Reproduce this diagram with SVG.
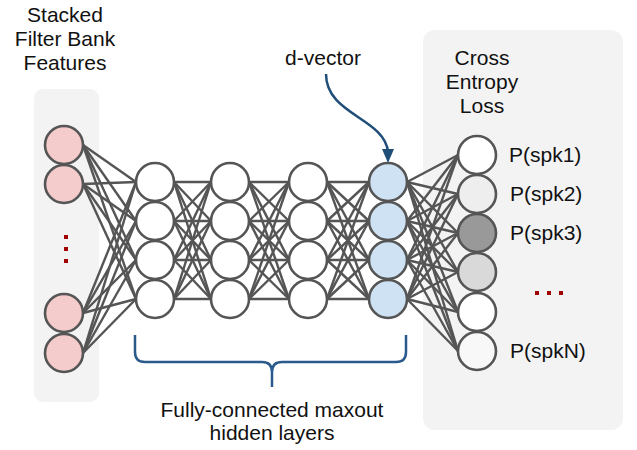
<svg xmlns="http://www.w3.org/2000/svg" width="637" height="450" viewBox="0 0 637 450">
<style>
.txt{font-family:"Liberation Sans",Arial,sans-serif;font-size:21px;fill:#111}
.n{stroke:#555555;stroke-width:2.6}
.e line{stroke:#555555;stroke-width:2.4}
.dot{fill:#a00000}
.panel{fill:#f3f3f3}
</style>
<rect class="panel" x="34" y="89" width="65" height="313" rx="9"/>
<rect class="panel" x="423" y="30" width="200" height="400" rx="12"/>
<g id="connectors" class="e">
<line x1="83" y1="145" x2="136" y2="182"/><line x1="83" y1="145" x2="136" y2="221"/><line x1="83" y1="145" x2="136" y2="260"/><line x1="83" y1="145" x2="136" y2="299"/>
<line x1="83" y1="184" x2="136" y2="182"/><line x1="83" y1="184" x2="136" y2="221"/><line x1="83" y1="184" x2="136" y2="260"/><line x1="83" y1="184" x2="136" y2="299"/>
<line x1="83" y1="313" x2="136" y2="182"/><line x1="83" y1="313" x2="136" y2="221"/><line x1="83" y1="313" x2="136" y2="260"/><line x1="83" y1="313" x2="136" y2="299"/>
<line x1="83" y1="353" x2="136" y2="182"/><line x1="83" y1="353" x2="136" y2="221"/><line x1="83" y1="353" x2="136" y2="260"/><line x1="83" y1="353" x2="136" y2="299"/>
<line x1="174" y1="182" x2="211" y2="182"/><line x1="174" y1="182" x2="211" y2="221"/><line x1="174" y1="182" x2="211" y2="260"/><line x1="174" y1="182" x2="211" y2="299"/>
<line x1="174" y1="221" x2="211" y2="182"/><line x1="174" y1="221" x2="211" y2="221"/><line x1="174" y1="221" x2="211" y2="260"/><line x1="174" y1="221" x2="211" y2="299"/>
<line x1="174" y1="260" x2="211" y2="182"/><line x1="174" y1="260" x2="211" y2="221"/><line x1="174" y1="260" x2="211" y2="260"/><line x1="174" y1="260" x2="211" y2="299"/>
<line x1="174" y1="299" x2="211" y2="182"/><line x1="174" y1="299" x2="211" y2="221"/><line x1="174" y1="299" x2="211" y2="260"/><line x1="174" y1="299" x2="211" y2="299"/>
<line x1="249" y1="182" x2="289" y2="182"/><line x1="249" y1="182" x2="289" y2="221"/><line x1="249" y1="182" x2="289" y2="260"/><line x1="249" y1="182" x2="289" y2="299"/>
<line x1="249" y1="221" x2="289" y2="182"/><line x1="249" y1="221" x2="289" y2="221"/><line x1="249" y1="221" x2="289" y2="260"/><line x1="249" y1="221" x2="289" y2="299"/>
<line x1="249" y1="260" x2="289" y2="182"/><line x1="249" y1="260" x2="289" y2="221"/><line x1="249" y1="260" x2="289" y2="260"/><line x1="249" y1="260" x2="289" y2="299"/>
<line x1="249" y1="299" x2="289" y2="182"/><line x1="249" y1="299" x2="289" y2="221"/><line x1="249" y1="299" x2="289" y2="260"/><line x1="249" y1="299" x2="289" y2="299"/>
<line x1="327" y1="182" x2="369" y2="182"/><line x1="327" y1="182" x2="369" y2="221"/><line x1="327" y1="182" x2="369" y2="260"/><line x1="327" y1="182" x2="369" y2="299"/>
<line x1="327" y1="221" x2="369" y2="182"/><line x1="327" y1="221" x2="369" y2="221"/><line x1="327" y1="221" x2="369" y2="260"/><line x1="327" y1="221" x2="369" y2="299"/>
<line x1="327" y1="260" x2="369" y2="182"/><line x1="327" y1="260" x2="369" y2="221"/><line x1="327" y1="260" x2="369" y2="260"/><line x1="327" y1="260" x2="369" y2="299"/>
<line x1="327" y1="299" x2="369" y2="182"/><line x1="327" y1="299" x2="369" y2="221"/><line x1="327" y1="299" x2="369" y2="260"/><line x1="327" y1="299" x2="369" y2="299"/>
<line x1="407" y1="182" x2="458" y2="155"/><line x1="407" y1="182" x2="458" y2="194"/><line x1="407" y1="182" x2="458" y2="233"/><line x1="407" y1="182" x2="458" y2="272"/><line x1="407" y1="182" x2="458" y2="312"/><line x1="407" y1="182" x2="458" y2="351"/>
<line x1="407" y1="221" x2="458" y2="155"/><line x1="407" y1="221" x2="458" y2="194"/><line x1="407" y1="221" x2="458" y2="233"/><line x1="407" y1="221" x2="458" y2="272"/><line x1="407" y1="221" x2="458" y2="312"/><line x1="407" y1="221" x2="458" y2="351"/>
<line x1="407" y1="260" x2="458" y2="155"/><line x1="407" y1="260" x2="458" y2="194"/><line x1="407" y1="260" x2="458" y2="233"/><line x1="407" y1="260" x2="458" y2="272"/><line x1="407" y1="260" x2="458" y2="312"/><line x1="407" y1="260" x2="458" y2="351"/>
<line x1="407" y1="299" x2="458" y2="155"/><line x1="407" y1="299" x2="458" y2="194"/><line x1="407" y1="299" x2="458" y2="233"/><line x1="407" y1="299" x2="458" y2="272"/><line x1="407" y1="299" x2="458" y2="312"/><line x1="407" y1="299" x2="458" y2="351"/>
</g>
<g id="input-layer">
<circle class="n" cx="64" cy="145" r="19" fill="#f4cccc"/>
<circle class="n" cx="64" cy="184" r="19" fill="#f4cccc"/>
<circle class="n" cx="64" cy="313" r="19" fill="#f4cccc"/>
<circle class="n" cx="64" cy="353" r="19" fill="#f4cccc"/>
<rect class="dot" x="64" y="235" width="4" height="4"/>
<rect class="dot" x="64" y="247" width="4" height="4"/>
<rect class="dot" x="64" y="259" width="4" height="4"/>
</g>
<g id="hidden-1">
<circle class="n" cx="155" cy="182" r="19" fill="#fff"/><circle class="n" cx="155" cy="221" r="19" fill="#fff"/><circle class="n" cx="155" cy="260" r="19" fill="#fff"/><circle class="n" cx="155" cy="299" r="19" fill="#fff"/>
</g>
<g id="hidden-2">
<circle class="n" cx="230" cy="182" r="19" fill="#fff"/><circle class="n" cx="230" cy="221" r="19" fill="#fff"/><circle class="n" cx="230" cy="260" r="19" fill="#fff"/><circle class="n" cx="230" cy="299" r="19" fill="#fff"/>
</g>
<g id="hidden-3">
<circle class="n" cx="308" cy="182" r="19" fill="#fff"/><circle class="n" cx="308" cy="221" r="19" fill="#fff"/><circle class="n" cx="308" cy="260" r="19" fill="#fff"/><circle class="n" cx="308" cy="299" r="19" fill="#fff"/>
</g>
<g id="dvector-layer">
<circle class="n" cx="388" cy="182" r="19" fill="#cfe2f3"/><circle class="n" cx="388" cy="221" r="19" fill="#cfe2f3"/><circle class="n" cx="388" cy="260" r="19" fill="#cfe2f3"/><circle class="n" cx="388" cy="299" r="19" fill="#cfe2f3"/>
</g>
<g id="output-layer">
<circle class="n" cx="477" cy="155" r="19" fill="#ffffff"/>
<circle class="n" cx="477" cy="194" r="19" fill="#eeeeee"/>
<circle class="n" cx="477" cy="233" r="19" fill="#999999"/>
<circle class="n" cx="477" cy="272" r="19" fill="#d9d9d9"/>
<circle class="n" cx="477" cy="312" r="19" fill="#ffffff"/>
<circle class="n" cx="477" cy="351" r="19" fill="#f8f8f8"/>
<text class="txt" x="509" y="162">P(spk1)</text>
<text class="txt" x="510" y="201">P(spk2)</text>
<text class="txt" x="510" y="240">P(spk3)</text>
<text class="txt" x="510" y="358">P(spkN)</text>
<rect class="dot" x="535" y="291" width="4" height="4"/>
<rect class="dot" x="547" y="291" width="4" height="4"/>
<rect class="dot" x="559" y="291" width="4" height="4"/>
</g>
<g id="input-label">
<text class="txt" text-anchor="middle" x="65" y="22">Stacked</text>
<text class="txt" text-anchor="middle" x="65" y="46">Filter Bank</text>
<text class="txt" text-anchor="middle" x="65" y="70">Features</text>
</g>
<g id="loss-label">
<text class="txt" text-anchor="middle" x="482" y="65">Cross</text>
<text class="txt" text-anchor="middle" x="482" y="89">Entropy</text>
<text class="txt" text-anchor="middle" x="482" y="113">Loss</text>
</g>
<g id="dvector-label">
<text class="txt" text-anchor="middle" x="323" y="65">d-vector</text>
<path d="M326,74 C326,115 385,118 388,152" fill="none" stroke="#1f4e79" stroke-width="2.5"/>
<path d="M382,149 L394,149 L388,163 Z" fill="#1f4e79"/>
</g>
<g id="brace">
<path d="M135,335 L135,352 Q135,362 145,362 L262,362 Q272,362 272,372 L272,387 M272,372 Q272,362 282,362 L396,362 Q406,362 406,352 L406,335" fill="none" stroke="#2a5a8c" stroke-width="2.5"/>
<text class="txt" text-anchor="middle" x="272" y="417">Fully-connected maxout</text>
<text class="txt" text-anchor="middle" x="272" y="440">hidden layers</text>
</g>
</svg>
